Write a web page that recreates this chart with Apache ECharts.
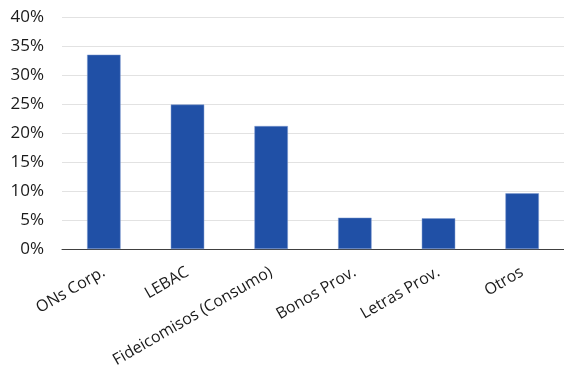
<!DOCTYPE html>
<html><head><meta charset="utf-8">
<script src="https://cdn.jsdelivr.net/npm/echarts@6/dist/echarts.min.js"></script>
<style>html,body{margin:0;padding:0;background:#fff}#c{width:564px;height:366px}</style>
</head><body><div id="c"></div>
<script>
const categories = ['ONs Corp.', 'LEBAC', 'Fideicomisos (Consumo)', 'Bonos Prov.', 'Letras Prov.', 'Otros'];
const values = [33.5, 24.9, 21.2, 5.4, 5.3, 9.6];
const yTicks = [0, 5, 10, 15, 20, 25, 30, 35, 40];

const chart = echarts.init(document.getElementById('c'));
chart.setOption({
  animation: false,
  grid: { left: 62, right: 0, top: 17, bottom: 117, containLabel: false, outerBoundsMode: 'none' },
  xAxis: {
    type: 'category', data: categories,
    axisLine: { lineStyle: { color: '#404040', width: 1 } },
    axisTick: { show: false },
    axisLabel: { rotate: 30, color: '#1a1a1a', fontFamily: 'Open Sans', fontSize: 16, margin: 22, interval: 0 }
  },
  yAxis: {
    type: 'value', min: yTicks[0], max: yTicks[yTicks.length - 1], interval: 5,
    axisLine: { show: false }, axisTick: { show: false },
    splitLine: { lineStyle: { color: '#e2e2e2', width: 1 } },
    axisLabel: { formatter: v => v + '%', color: '#1a1a1a', fontFamily: 'Open Sans', fontSize: 17, margin: 18 }
  },
  series: [{
    type: 'bar', data: values, barWidth: '40%',
    itemStyle: { color: '#2050a6', borderColor: '#7f9bd0', borderWidth: 0.5 }
  }]
});
</script></body></html>
